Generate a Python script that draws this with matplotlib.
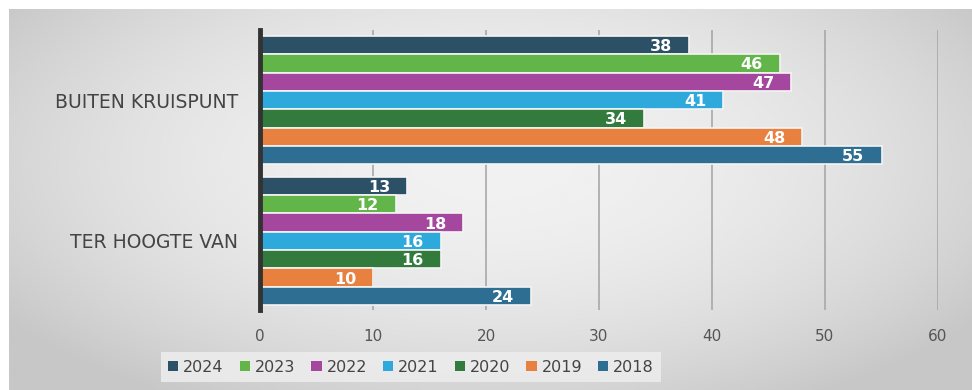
import matplotlib.pyplot as plt
import numpy as np
from matplotlib.patches import Patch

plt.rcParams["font.family"] = ["DejaVu Sans"]

CATEGORIES = ["BUITEN KRUISPUNT", "TER HOOGTE VAN"]
YEARS = ["2024", "2023", "2022", "2021", "2020", "2019", "2018"]
VALUES = {
    "2024": [38, 13],
    "2023": [46, 12],
    "2022": [47, 18],
    "2021": [41, 16],
    "2020": [34, 16],
    "2019": [48, 10],
    "2018": [55, 24],
}
COLORS = {
    "2024": "#2c5167",
    "2023": "#62b548",
    "2022": "#a6479f",
    "2021": "#2ea9dc",
    "2020": "#327b3d",
    "2019": "#e8803f",
    "2018": "#2e6e92",
}
X_TICKS = [0, 10, 20, 30, 40, 50, 60]

W, H = 972, 390
fig = plt.figure(figsize=(W / 100, H / 100), dpi=100)
fig.patch.set_facecolor("white")

# grey vignette panel behind everything
bg = fig.add_axes([9 / W, 0, 1 - 9 / W, 1 - 9 / H], zorder=-10)
yy, xx = np.mgrid[-1:1:200j, -1:1:400j]
r2 = (xx * 0.95) ** 2 + ((yy + 0.2) * 0.8) ** 2
shade = np.clip(0.945 - 0.12 * r2, 0.78, 0.95)
bg.imshow(shade, cmap="gray", vmin=0, vmax=1, aspect="auto",
          extent=[0, 1, 0, 1], interpolation="bicubic")
bg.set_axis_off()

ax = fig.add_axes([260 / W, 1 - 310 / H, (938 - 260) / W, 280 / H])
ax.set_facecolor("none")

bar_h = 0.13
n = len(YEARS)
cat_pos = np.arange(len(CATEGORIES))
for j, year in enumerate(YEARS):
    offs = (j - (n - 1) / 2) * bar_h
    ys = cat_pos + offs
    vals = VALUES[year]
    ax.barh(ys, vals, height=bar_h, color=COLORS[year],
            edgecolor="#f4f4f4", linewidth=1.2, zorder=3)
    for y, v in zip(ys, vals):
        ax.text(v - 1.5, y, str(v), ha="right", va="center_baseline",
                color="white", fontsize=11.5, fontweight="bold", zorder=4)

ax.set_xlim(0, 60)
ax.set_ylim(1.49, -0.497)
ax.set_xticks(X_TICKS)
ax.set_xticklabels([str(t) for t in X_TICKS], color="#555555", fontsize=11)
ax.tick_params(axis="x", length=0, pad=14)
ax.set_yticks(cat_pos)
ax.set_yticklabels(CATEGORIES, color="#444444", fontsize=13.5)
ax.tick_params(axis="y", length=0, pad=16)
ax.grid(axis="x", color="#a8a8a8", linewidth=1.2, zorder=0)
for side in ("top", "right", "bottom"):
    ax.spines[side].set_visible(False)
ax.spines["left"].set_color("#333333")
ax.spines["left"].set_linewidth(3.5)
ax.spines["left"].set_zorder(5)

handles = [Patch(facecolor=COLORS[y], edgecolor="none", label=y) for y in YEARS]
leg = fig.legend(handles=handles, loc="center", ncol=n,
                 bbox_to_anchor=(411 / W, 1 - 367 / H), frameon=True,
                 fontsize=11.5, handlelength=0.65, handleheight=0.65,
                 handletextpad=0.3, columnspacing=1.0, borderpad=0.45,
                 fancybox=False)
leg.get_frame().set_facecolor("#ececec")
leg.get_frame().set_edgecolor("none")
leg.get_frame().set_alpha(0.9)
for t in leg.get_texts():
    t.set_color("#444444")

fig.savefig("out.png", dpi=100)
